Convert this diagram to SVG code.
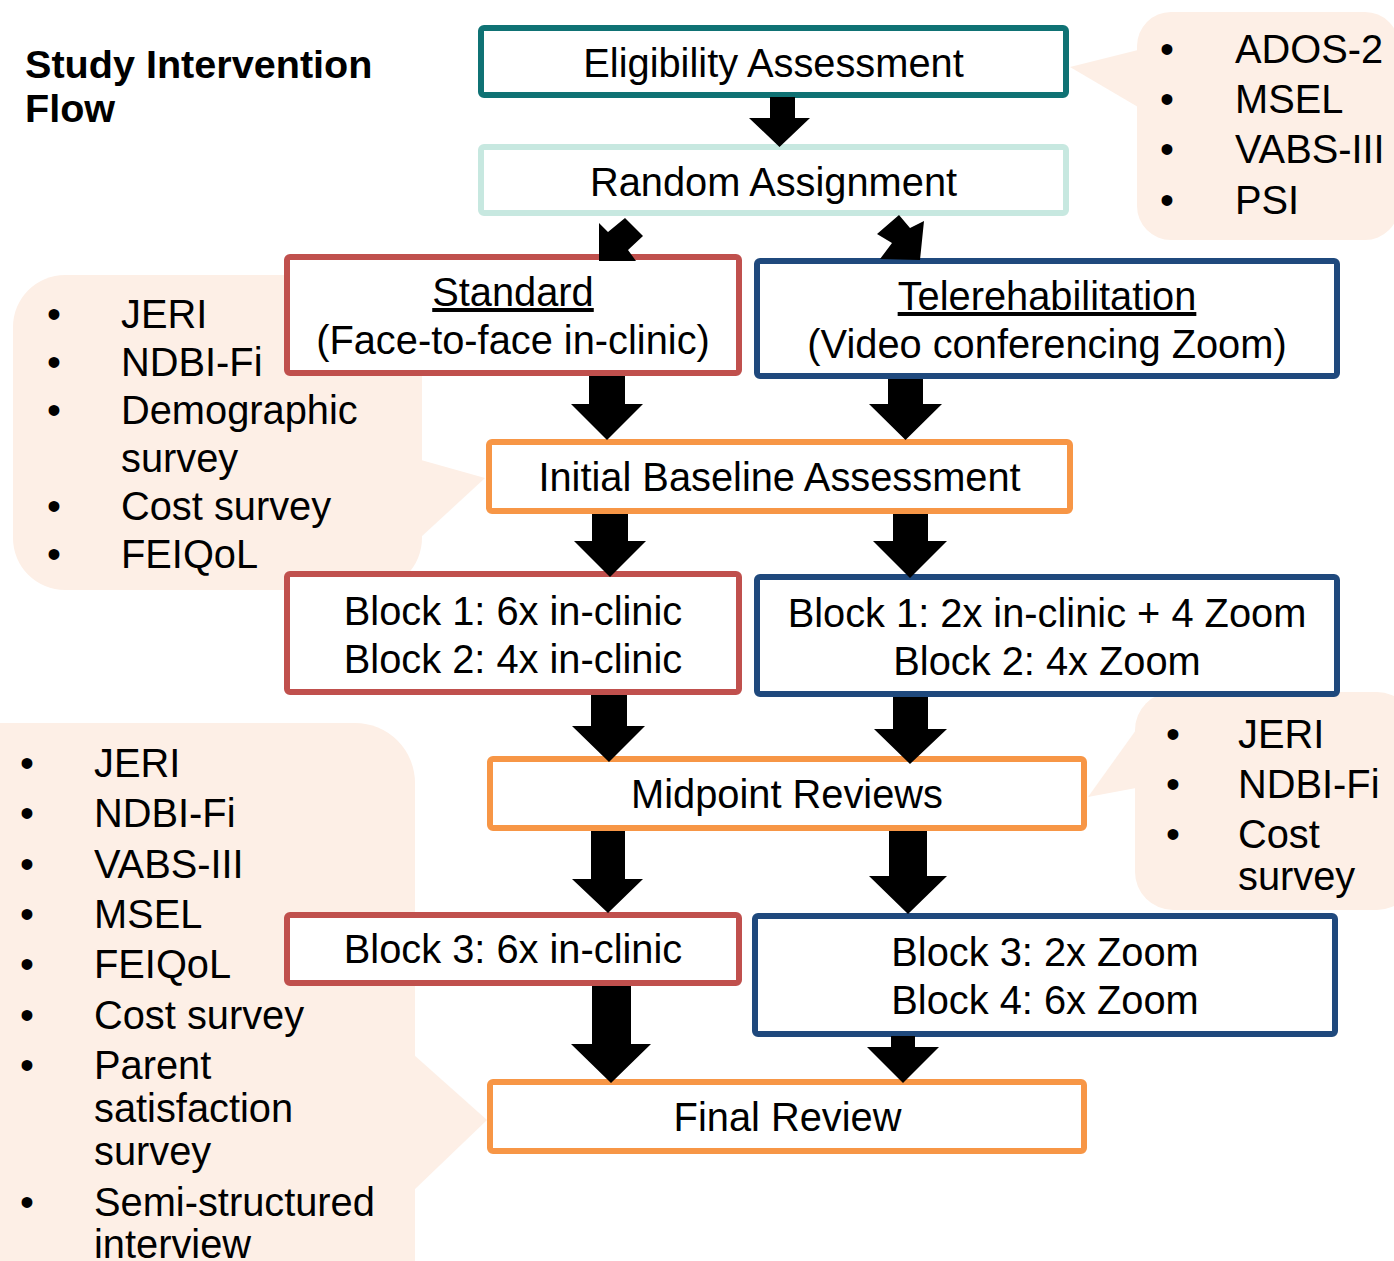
<svg xmlns="http://www.w3.org/2000/svg" width="1394" height="1261" viewBox="0 0 1394 1261">
<style>
text{font-family:"Liberation Sans",Arial,sans-serif;font-size:39.8px;fill:#000}
.c{text-anchor:middle}
.t{font-weight:bold;font-size:39.6px}
.u{text-decoration:underline}
.call{fill:#fdefe6}
.box{fill:#fff;stroke-width:6}
.teal{stroke:#0f7274}
.lteal{stroke:#c7e8e0}
.red{stroke:#c0504d}
.blue{stroke:#1f497d}
.orange{stroke:#f79646}
.arr{fill:#000}
</style>
<rect width="1394" height="1261" fill="#fff"/>
<g id="title">
<text class="t" x="25" y="78">Study Intervention</text>
<text class="t" x="25" y="122">Flow</text>
</g>
<g id="callout-eligibility">
<rect class="call" x="1137" y="12" width="262" height="228" rx="34"/>
<polygon class="call" points="1070,67 1138,50 1138,107"/>
<text x="1160" y="63">•</text><text x="1235" y="63">ADOS-2</text>
<text x="1160" y="113">•</text><text x="1235" y="113">MSEL</text>
<text x="1160" y="163">•</text><text x="1235" y="163">VABS-III</text>
<text x="1160" y="214">•</text><text x="1235" y="214">PSI</text>
</g>
<g id="callout-baseline">
<rect class="call" x="13" y="275" width="409" height="315" rx="52"/>
<polygon class="call" points="421,460 485,478 421,537"/>
<text x="47" y="328">•</text><text x="121" y="328">JERI</text>
<text x="47" y="376">•</text><text x="121" y="376">NDBI-Fi</text>
<text x="47" y="424">•</text><text x="121" y="424">Demographic</text>
<text x="121" y="472">survey</text>
<text x="47" y="520">•</text><text x="121" y="520">Cost survey</text>
<text x="47" y="568">•</text><text x="121" y="568">FEIQoL</text>
</g>
<g id="callout-midpoint">
<rect class="call" x="1135" y="692" width="280" height="218" rx="38"/>
<polygon class="call" points="1088,797 1136,730 1136,788"/>
<text x="1166" y="748">•</text><text x="1238" y="748">JERI</text>
<text x="1166" y="798">•</text><text x="1238" y="798">NDBI-Fi</text>
<text x="1166" y="848">•</text><text x="1238" y="848">Cost</text>
<text x="1238" y="890">survey</text>
</g>
<g id="callout-final">
<rect class="call" x="-60" y="723" width="475" height="600" rx="60"/>
<polygon class="call" points="414,1055 487,1120 414,1190"/>
<text x="20" y="777">•</text><text x="94" y="777">JERI</text>
<text x="20" y="827">•</text><text x="94" y="827">NDBI-Fi</text>
<text x="20" y="878">•</text><text x="94" y="878">VABS-III</text>
<text x="20" y="928">•</text><text x="94" y="928">MSEL</text>
<text x="20" y="978">•</text><text x="94" y="978">FEIQoL</text>
<text x="20" y="1029">•</text><text x="94" y="1029">Cost survey</text>
<text x="20" y="1079">•</text><text x="94" y="1079">Parent</text>
<text x="94" y="1122">satisfaction</text>
<text x="94" y="1165">survey</text>
<text x="20" y="1216">•</text><text x="94" y="1216">Semi-structured</text>
<text x="94" y="1258">interview</text>
</g>
<g id="eligibility">
<rect class="box teal" x="481" y="28" width="585" height="67" rx="3"/>
<text class="c" x="773.5" y="77">Eligibility Assessment</text>
</g>
<g id="random">
<rect class="box lteal" x="481" y="147" width="585" height="66" rx="3"/>
<text class="c" x="773.5" y="196">Random Assignment</text>
</g>
<g id="standard">
<rect class="box red" x="287" y="257" width="452" height="116" rx="3"/>
<text class="c u" x="513" y="306">Standard</text>
<text class="c" x="513" y="354">(Face-to-face in-clinic)</text>
</g>
<g id="tele">
<rect class="box blue" x="757" y="261" width="580" height="115" rx="3"/>
<text class="c u" x="1047" y="310">Telerehabilitation</text>
<text class="c" x="1047" y="358">(Video conferencing Zoom)</text>
</g>
<g id="initial">
<rect class="box orange" x="489" y="442" width="581" height="69" rx="3"/>
<text class="c" x="779.5" y="491">Initial Baseline Assessment</text>
</g>
<g id="block12-standard">
<rect class="box red" x="287" y="574" width="452" height="118" rx="3"/>
<text class="c" x="513" y="625">Block 1: 6x in-clinic</text>
<text class="c" x="513" y="673">Block 2: 4x in-clinic</text>
</g>
<g id="block12-tele">
<rect class="box blue" x="757" y="577" width="580" height="117" rx="3"/>
<text class="c" x="1047" y="627">Block 1: 2x in-clinic + 4 Zoom</text>
<text class="c" x="1047" y="675">Block 2: 4x Zoom</text>
</g>
<g id="midpoint">
<rect class="box orange" x="490" y="759" width="594" height="69" rx="3"/>
<text class="c" x="787" y="808">Midpoint Reviews</text>
</g>
<g id="block3-standard">
<rect class="box red" x="287" y="915" width="452" height="68" rx="3"/>
<text class="c" x="513" y="963">Block 3: 6x in-clinic</text>
</g>
<g id="block34-tele">
<rect class="box blue" x="755" y="916" width="580" height="118" rx="3"/>
<text class="c" x="1045" y="966">Block 3: 2x Zoom</text>
<text class="c" x="1045" y="1014">Block 4: 6x Zoom</text>
</g>
<g id="final">
<rect class="box orange" x="490" y="1082" width="594" height="69" rx="3"/>
<text class="c" x="787.5" y="1131">Final Review</text>
</g>
<g id="connectors" class="arr">
<polygon points="770,97 795,97 795,118 810,118 779.5,147 749,118 770,118"/>
<polygon points="625,218 643,236 628,250 636,261 599,261 599,223 608,232"/>
<polygon points="899,215 910,228 924,221 920,260 880,259 892,243 877,234"/>
<polygon points="589,376 625,376 625,404 643,404 607,440 571,404 589,404"/>
<polygon points="888,379 923,379 923,404 942,404 905.5,440 869,404 888,404"/>
<polygon points="592,514 628,514 628,541 646,541 610,577 574,541 592,541"/>
<polygon points="893,514 928,514 928,541 947,541 910,578 873,541 893,541"/>
<polygon points="591,695 627,695 627,726 645,726 609,762 572,726 591,726"/>
<polygon points="893,697 928,697 928,729 947,729 910,764 874,729 893,729"/>
<polygon points="591,831 625,831 625,879 643,879 608,913 572,879 591,879"/>
<polygon points="889,831 927,831 927,876 947,876 908,914 869,876 889,876"/>
<polygon points="592,986 631,986 631,1044 651,1044 611,1083 571,1044 592,1044"/>
<polygon points="891,1036 915,1036 915,1047 939,1047 903,1083 867,1047 891,1047"/>
</g>
</svg>
